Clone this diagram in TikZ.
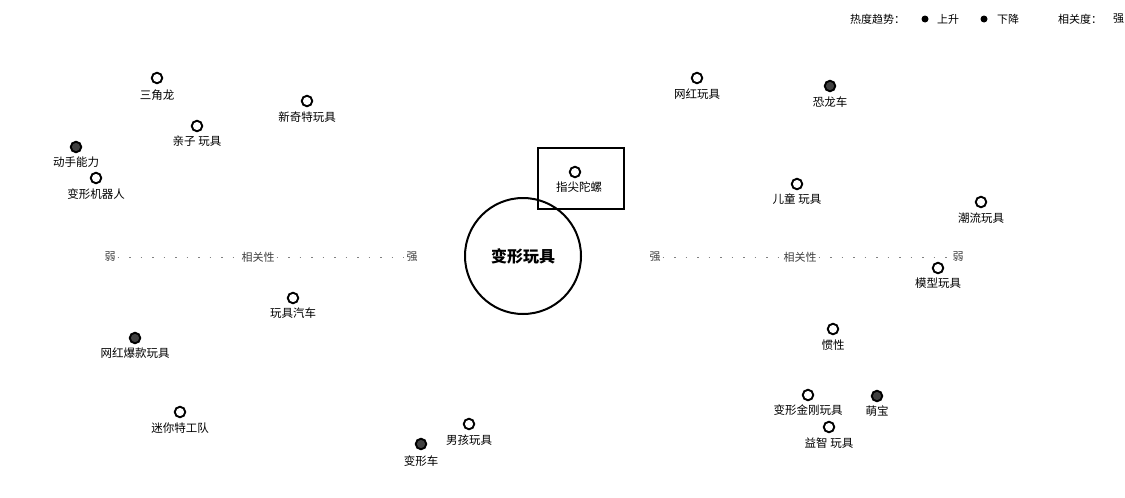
\documentclass[tikz,border=0pt]{standalone}
\usepackage{fontspec}
\newfontfamily\cjk{Noto Sans CJK SC}
\tikzset{
  kw/.style={circle, draw=black, line width=1.9pt, minimum size=10.5pt, inner sep=0pt, fill=white},
  kwdark/.style={kw, fill=black!75},
  lbl/.style={font=\cjk\fontsize{11.5}{12}\selectfont, inner sep=0pt, text=black},
  axl/.style={font=\cjk\fontsize{11}{11}\selectfont, inner sep=2pt, text=black!75},
  axline/.style={draw=black!50, line width=0.9pt, dash pattern=on 1.5pt off 10pt},
  legdot/.style={circle, fill=black, minimum size=7pt, inner sep=0pt},
  leg/.style={font=\cjk\fontsize{11}{11}\selectfont, inner sep=0pt, anchor=west}
}
\begin{document}
\begin{tikzpicture}[x=1pt,y=-1pt]
\useasboundingbox[fill=white] (0,0) rectangle (1125,498);

% legend
\node[leg] (lg1) at (850,19) {热度趋势：};
\node[legdot] (lgd1) at (925,19) {};
\node[leg] (lg2) at (937,19) {上升};
\node[legdot] (lgd2) at (984,19) {};
\node[leg] (lg3) at (997,19) {下降};
\node[leg] (lg4) at (1058,19) {相关度：};
\node[leg] (lg5) at (1113,19) {强};

% axes
\node[axl] (lweak) at (110,257) {弱};
\node[axl] (lrel) at (258,257) {相关性};
\node[axl] (lstrong) at (412,257) {强};
\node[axl] (rstrong) at (655,257) {强};
\node[axl] (rrel) at (800,257) {相关性};
\node[axl] (rweak) at (958,257) {弱};
\draw[axline] (lweak) -- (lrel);
\draw[axline] (lrel) -- (lstrong);
\draw[axline] (rstrong) -- (rrel);
\draw[axline] (rrel) -- (rweak);

% center
\node[circle, draw=black, line width=2pt, minimum size=116pt, inner sep=0pt, fill=white,
      font=\cjk\bfseries\fontsize{16}{17}\selectfont] (center) at (523,256) {变形玩具};

% highlighted box
\node[draw=black, line width=2pt, minimum width=86pt, minimum height=61pt, inner sep=0pt] (box) at (581,178.5) {};
\node[kw] (d0) at (575,172) {};
\node[lbl] (t0) at (579,187) {指尖陀螺};

% keywords
\node[kw] (d1) at (157,78) {};      \node[lbl] (t1) at (157,95) {三角龙};
\node[kw] (d2) at (307,101) {};     \node[lbl] (t2) at (307,117) {新奇特玩具};
\node[kw] (d3) at (197,126) {};     \node[lbl] (t3) at (197,141) {亲子 玩具};
\node[kwdark] (d4) at (76,147) {};  \node[lbl] (t4) at (76,162) {动手能力};
\node[kw] (d5) at (96,178) {};      \node[lbl] (t5) at (96,194) {变形机器人};
\node[kw] (d6) at (697,78) {};      \node[lbl] (t6) at (697,94) {网红玩具};
\node[kwdark] (d7) at (830,86) {};  \node[lbl] (t7) at (830,102) {恐龙车};
\node[kw] (d8) at (797,184) {};     \node[lbl] (t8) at (797,199) {儿童 玩具};
\node[kw] (d9) at (981,202) {};     \node[lbl] (t9) at (981,218) {潮流玩具};
\node[kw] (d10) at (938,268) {};    \node[lbl] (t10) at (938,283) {模型玩具};
\node[kw] (d11) at (293,298) {};    \node[lbl] (t11) at (293,313) {玩具汽车};
\node[kwdark] (d12) at (135,338) {};\node[lbl] (t12) at (135,353) {网红爆款玩具};
\node[kw] (d13) at (833,329) {};    \node[lbl] (t13) at (833,345) {惯性};
\node[kw] (d14) at (808,395) {};    \node[lbl] (t14) at (808,410) {变形金刚玩具};
\node[kwdark] (d15) at (877,396) {};\node[lbl] (t15) at (877,411) {萌宝};
\node[kw] (d16) at (829,427) {};    \node[lbl] (t16) at (829,443) {益智 玩具};
\node[kw] (d17) at (180,412) {};    \node[lbl] (t17) at (180,428) {迷你特工队};
\node[kw] (d18) at (469,424) {};    \node[lbl] (t18) at (469,440) {男孩玩具};
\node[kwdark] (d19) at (421,444) {};\node[lbl] (t19) at (421,461) {变形车};
\end{tikzpicture}
\end{document}
